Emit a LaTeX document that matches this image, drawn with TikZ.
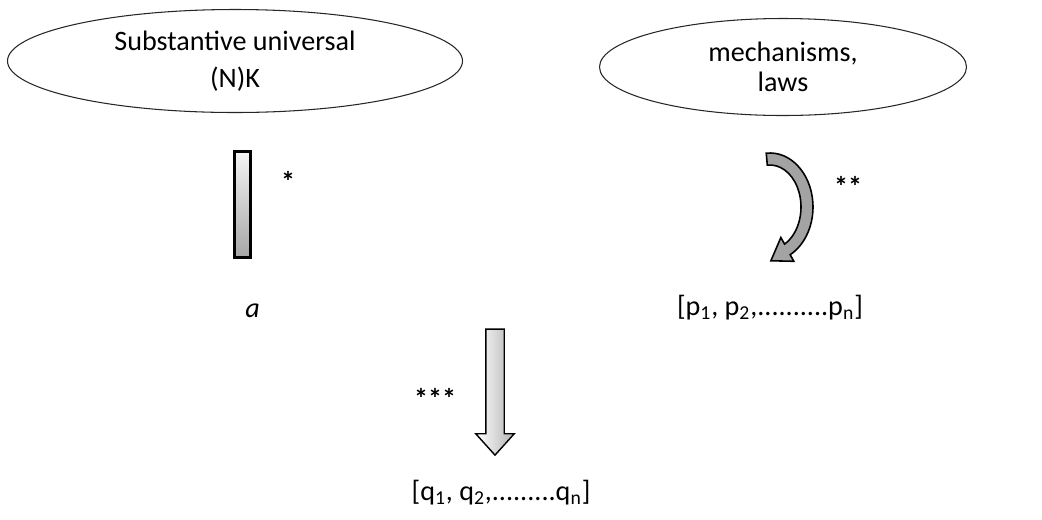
\documentclass[tikz,border=0pt]{standalone}
\usepackage{fontspec}
\setmainfont{Carlito}
\usepackage{tikz}
\usetikzlibrary{shapes.geometric, shapes.arrows}

\begin{document}
\begin{tikzpicture}[
    oval/.style={draw=black!85, ellipse, line width=0.6pt, font=\fontsize{16}{19}\selectfont, align=center, inner sep=0pt},
    lbl/.style={font=\fontsize{16}{19}\selectfont, inner sep=0pt},
    star/.style={font=\fontsize{16}{18}\selectfont\bfseries, inner sep=0pt},
    bar/.style={draw, line width=1.7pt, top color=gray!8, bottom color=gray!70, minimum width=0.33cm, minimum height=2.12cm, inner sep=0pt},
    downarrow/.style={draw, line width=0.8pt, single arrow, rotate=-90, inner xsep=0pt, inner ysep=0.17cm, minimum width=0.74cm, minimum height=2.52cm,
        single arrow head extend=0.2cm, single arrow tip angle=84, left color=white, right color=gray!60},
    curvearrow/.style={draw, line width=0.9pt, fill=gray!72},
]
    \useasboundingbox (0,0) rectangle (20.84,-10.38);

    % left side
    \node[oval, minimum width=9.1cm, minimum height=2.06cm] (nk) at (4.7,-1.22) {Substantive universal\\[2pt](N)K};
    \node[bar] (abar) at (4.85,-4.08) {};
    \node[star] (s1) at (5.76,-3.62) {*};
    \node[lbl, anchor=base] (a) at (5.05,-6.34) {\textit{a}};

    % right side
    \node[oval, minimum width=7.34cm, minimum height=1.94cm] (ml) at (15.66,-1.34) {mechanisms,\\[-2pt]laws};
    \begin{scope}[shift={(15.4,-4.14)}]
        \path[curvearrow] ({0.86*cos(95)},{1.08*sin(95)}) arc[start angle=95, end angle=-62, x radius=0.86, y radius=1.08]
            -- (0.477,-1.086) -- (0.018,-1.075) -- (0.217,-0.610)
            -- ({0.62*cos(-62)},{0.84*sin(-62)}) arc[start angle=-62, end angle=95, x radius=0.62, y radius=0.84] -- cycle;
    \end{scope}
    \node[star] (s2) at (16.96,-3.72) {**};
    \node[lbl, anchor=base] (p) at (15.4,-6.3) {[p\textsubscript{1}, p\textsubscript{2},..........p\textsubscript{n}]};

    % bottom
    \node[downarrow] (qarrow) at (9.9,-7.74) {};
    \node[star] (s3) at (8.7,-7.96) {***};
    \node[lbl, anchor=base] (q) at (10.02,-10.0) {[q\textsubscript{1}, q\textsubscript{2},.........q\textsubscript{n}]};
\end{tikzpicture}
\end{document}
